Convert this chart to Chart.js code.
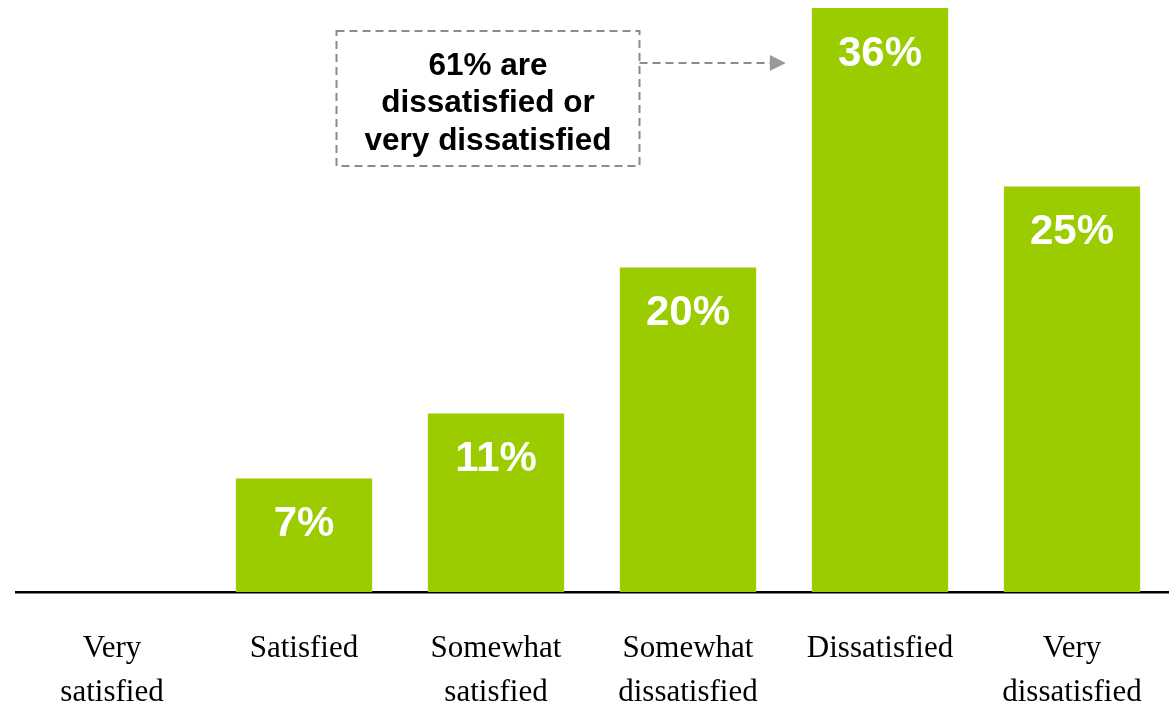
<!DOCTYPE html>
<html>
<head>
<meta charset="utf-8">
<script src="https://cdn.jsdelivr.net/npm/chart.js@4/dist/chart.umd.min.js"></script>
<style>
  html, body { margin: 0; padding: 0; background: #fff; }
  #wrap { width: 1169px; height: 703px; position: relative; }
</style>
</head>
<body>
<div id="wrap"><canvas id="chart"></canvas></div>
<script>
// データ
const categories = [
  ['Very', 'satisfied'],
  'Satisfied',
  ['Somewhat', 'satisfied'],
  ['Somewhat', 'dissatisfied'],
  'Dissatisfied',
  ['Very', 'dissatisfied']
];
const shares = [0, 7, 11, 20, 36, 25];
const valueLabels = ['', '7%', '11%', '20%', '36%', '25%'];
const calloutLines = ['61% are', 'dissatisfied or', 'very dissatisfied'];

const GREEN = '#9acc00';

// バーの中に白い数値ラベルを描く
const valueLabelPlugin = {
  id: 'valueLabels',
  afterDatasetsDraw(chart) {
    const ctx = chart.ctx;
    const meta = chart.getDatasetMeta(0);
    ctx.save();
    ctx.fillStyle = '#ffffff';
    ctx.font = 'bold 42px "Liberation Sans", Arial, sans-serif';
    ctx.textAlign = 'center';
    ctx.textBaseline = 'middle';
    meta.data.forEach(function (bar, i) {
      if (!valueLabels[i]) return;
      ctx.fillText(valueLabels[i], bar.x, bar.y + 46);
    });
    ctx.restore();
  }
};

// 点線の枠と矢印
const calloutPlugin = {
  id: 'callout',
  afterDraw(chart) {
    const ctx = chart.ctx;
    const x = chart.scales.x;
    const target = chart.getDatasetMeta(0).data[4];

    const cx = x.getPixelForValue(2) - 8;
    const boxW = 303, boxH = 135;
    const left = cx - boxW / 2;
    const top = 31;
    const arrowY = top + 32;

    ctx.save();
    ctx.strokeStyle = '#8c8c8c';
    ctx.lineWidth = 2;
    ctx.setLineDash([8, 5]);
    ctx.strokeRect(left, top, boxW, boxH);

    // 矢印
    const tipX = target.x - target.width / 2 - 26;
    ctx.beginPath();
    ctx.moveTo(left + boxW, arrowY);
    ctx.lineTo(tipX - 14, arrowY);
    ctx.stroke();
    ctx.setLineDash([]);
    ctx.fillStyle = '#999999';
    ctx.beginPath();
    ctx.moveTo(tipX, arrowY);
    ctx.lineTo(tipX - 16, arrowY - 8);
    ctx.lineTo(tipX - 16, arrowY + 8);
    ctx.closePath();
    ctx.fill();

    // テキスト
    ctx.fillStyle = '#000000';
    ctx.font = 'bold 31.5px "Liberation Sans", Arial, sans-serif';
    ctx.textAlign = 'center';
    ctx.textBaseline = 'middle';
    calloutLines.forEach(function (line, i) {
      ctx.fillText(line, cx, top + 35 + i * 37.5);
    });
    ctx.restore();
  }
};

const ctx = document.getElementById('chart').getContext('2d');
new Chart(ctx, {
  type: 'bar',
  data: {
    labels: categories,
    datasets: [{
      data: shares,
      backgroundColor: GREEN,
      borderWidth: 0,
      categoryPercentage: 1,
      barPercentage: 0.71
    }]
  },
  options: {
    responsive: true,
    maintainAspectRatio: false,
    animation: false,
    layout: { padding: { left: 16, right: 1, top: 8, bottom: 0 } },
    plugins: {
      legend: { display: false }, // レジェンド非表示
      tooltip: { enabled: false }
    },
    scales: {
      x: {
        // 目盛り線は透明にして、ラベルを下にずらすためだけに使う
        grid: { display: true, drawOnChartArea: false, drawTicks: true, tickLength: 35, color: 'rgba(0,0,0,0)' },
        border: { display: true, color: '#000000', width: 2.5 },
        ticks: {
          color: '#000000',
          padding: 0,
          maxRotation: 0,
          autoSkip: false,
          font: { family: '"Liberation Serif", "Times New Roman", serif', size: 31, lineHeight: 1.42 }
        },
        afterFit(scale) { scale.height = 111; }
      },
      y: {
        display: false,
        min: 0,
        max: 36
      }
    }
  },
  plugins: [valueLabelPlugin, calloutPlugin]
});
</script>
</body>
</html>
